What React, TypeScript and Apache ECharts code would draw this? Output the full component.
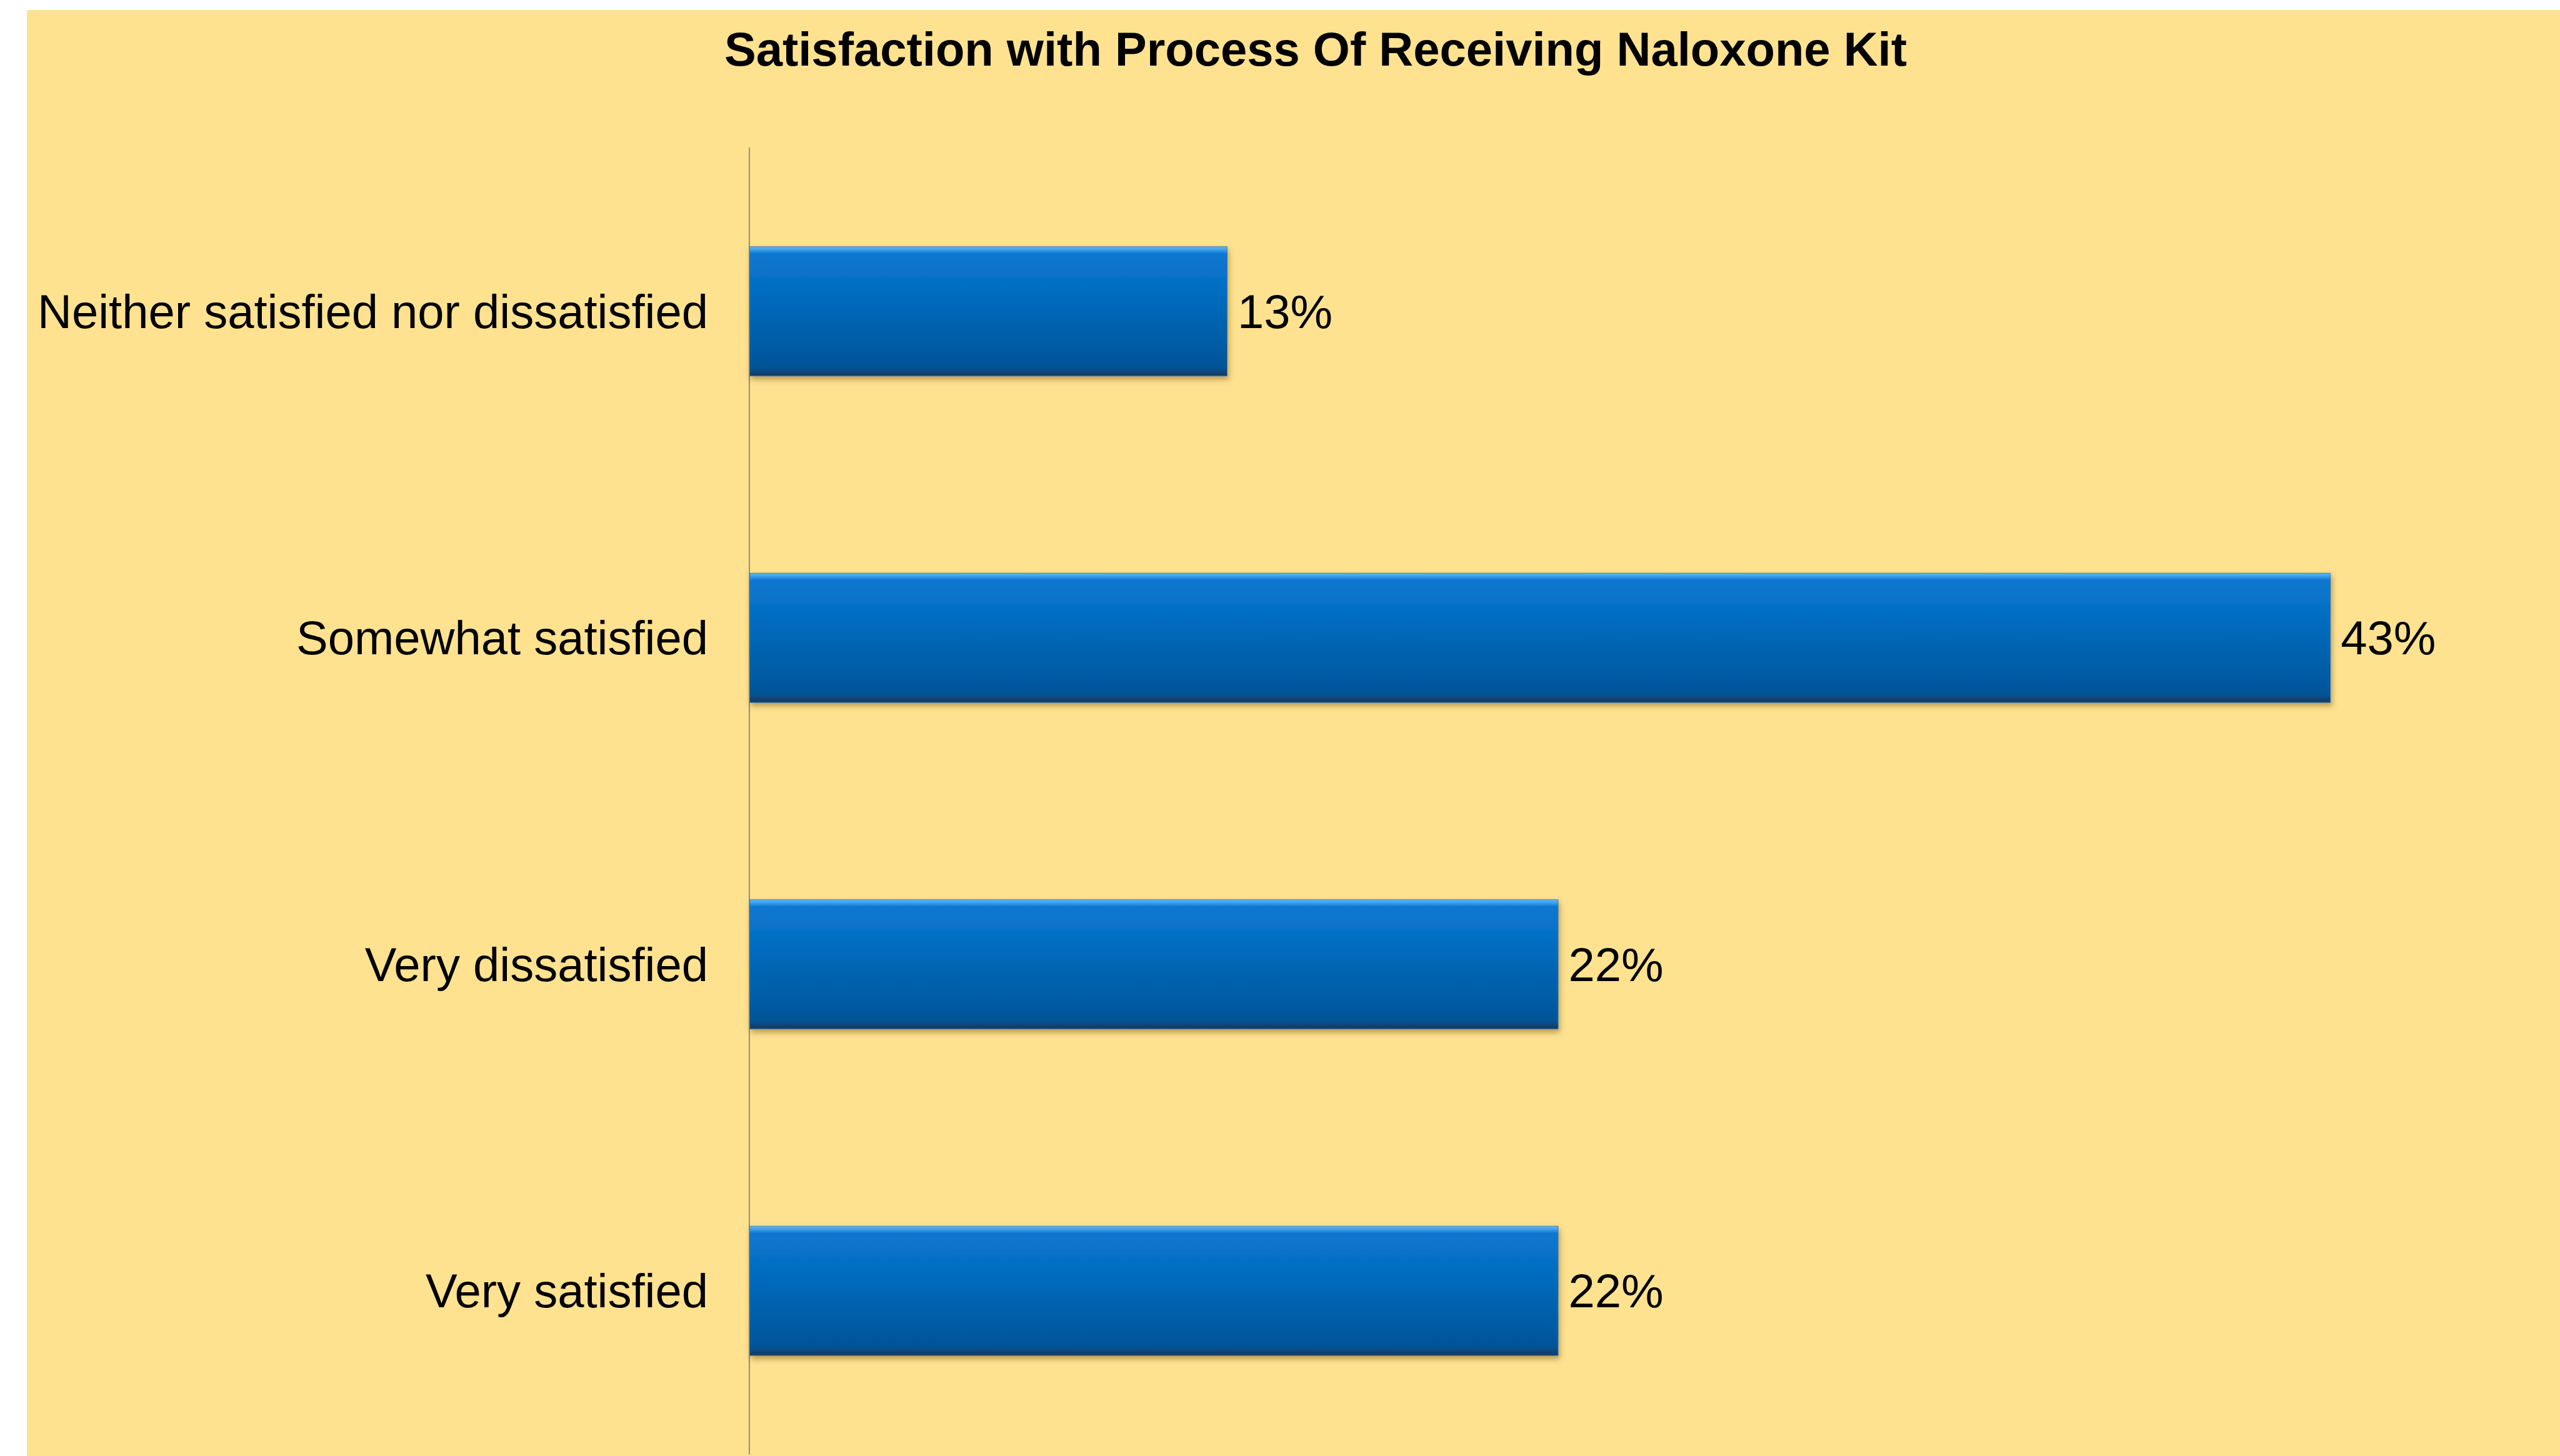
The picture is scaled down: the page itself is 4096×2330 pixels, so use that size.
import React, { useEffect, useRef } from "react";
import * as echarts from "echarts";

const categories = [
  "Neither satisfied nor dissatisfied",
  "Somewhat satisfied",
  "Very dissatisfied",
  "Very satisfied",
];
const values = [13, 43, 22, 22];
const titleText = "Satisfaction with Process Of Receiving Naloxone Kit";

const W = 4096;
const H = 2330;
const FONT = "'Liberation Sans', Arial, Helvetica, sans-serif";

export default function App() {
  const ref = useRef<HTMLDivElement>(null);
  useEffect(() => {
    if (!ref.current) return;
    const chart = echarts.init(ref.current, null, { renderer: "svg", width: W, height: H });
    const barGradient = new echarts.graphic.LinearGradient(0, 0, 0, 1, [
      { offset: 0, color: "#62B8F6" },
      { offset: 0.025, color: "#3C9FEC" },
      { offset: 0.055, color: "#0C77CF" },
      { offset: 0.25, color: "#0671C7" },
      { offset: 0.85, color: "#05589F" },
      { offset: 0.94, color: "#055395" },
      { offset: 0.97, color: "#0B4478" },
      { offset: 1, color: "#183C60" },
    ]);
    chart.setOption({
      animation: false,
      backgroundColor: "#ffffff",
      graphic: [
        {
          type: "rect",
          z: -100,
          silent: true,
          shape: { x: 43, y: 16, width: W - 43, height: H - 16 },
          style: { fill: "#FFE290" },
        },
        {
          type: "text",
          z: 10,
          x: 2105,
          y: 78,
          style: {
            text: titleText,
            fontFamily: FONT,
            fontWeight: "bold",
            fontSize: 76,
            fill: "#000000",
            textAlign: "center",
            textVerticalAlign: "middle",
          },
        },
      ],
      grid: { left: 1199, top: 237, right: 249, bottom: 3, containLabel: false },
      xAxis: {
        type: "value",
        min: 0,
        max: 45,
        show: false,
        splitLine: { show: false },
      },
      yAxis: {
        type: "category",
        inverse: true,
        data: categories,
        axisLine: { show: true, lineStyle: { color: "#8E8E8E", width: 2 } },
        axisTick: { show: false },
        axisLabel: {
          fontFamily: FONT,
          fontSize: 76,
          color: "#000000",
          margin: 66,
        },
        splitLine: { show: false },
      },
      series: [
        {
          type: "bar",
          data: values,
          barWidth: 208,
          itemStyle: {
            color: barGradient,
            borderColor: "#3F7FB5",
            borderWidth: 1,
            shadowColor: "rgba(90,70,0,0.45)",
            shadowBlur: 10,
            shadowOffsetX: 2,
            shadowOffsetY: 5,
          },
          label: {
            show: true,
            position: "right",
            distance: 16,
            formatter: (p: any) => p.value + "%",
            fontFamily: FONT,
            fontSize: 76,
            color: "#000000",
          },
        },
      ],
    });
    return () => chart.dispose();
  }, []);
  return (
    <div
      ref={ref}
      style={{ position: "fixed", left: 0, top: 0, width: W, height: H, background: "#fff" }}
    />
  );
}
